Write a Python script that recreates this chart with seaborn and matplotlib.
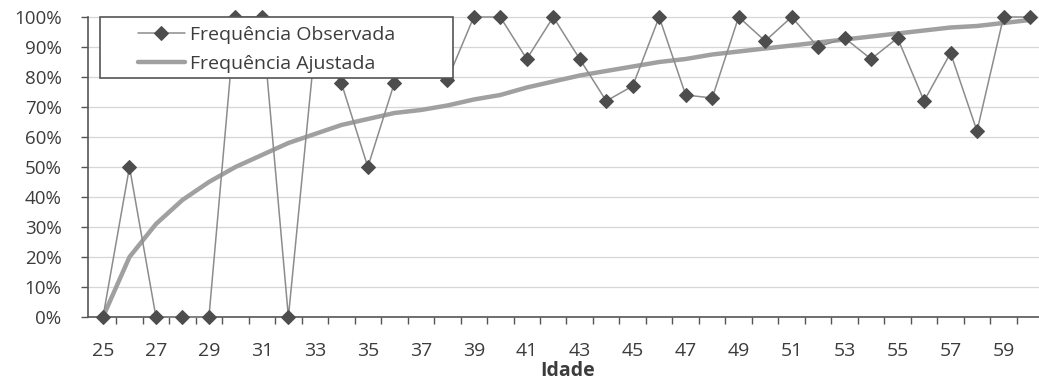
import matplotlib
matplotlib.use("Agg")
import matplotlib.pyplot as plt
from matplotlib.patches import Rectangle
from matplotlib.ticker import FixedLocator, FuncFormatter
import numpy as np
import pandas as pd
import seaborn as sns

# Age groups (years)
idade = list(range(25, 61))

# Observed frequency per age (%)
freq_observada = [0, 50, 0, 0, 0, 100, 100, 0, 90, 78, 50, 78, 90, 79,
                  100, 100, 86, 100, 86, 72, 77, 100, 74, 73, 100, 92,
                  100, 90, 93, 86, 93, 72, 88, 62, 100, 100]

# Fitted frequency per age (%)
freq_ajustada = [0, 20, 31, 39, 45, 50, 54, 58, 61, 64, 66, 68, 69, 70.5,
                 72.5, 74, 76.5, 78.5, 80.5, 82, 83.5, 85, 86, 87.5, 88.5,
                 89.5, 90.5, 91.5, 92.5, 93.5, 94.5, 95.5, 96.5, 97, 98, 99]

y_ticks = list(range(0, 101, 10))
x_labels = list(range(25, 60, 2))

df = pd.DataFrame({"idade": idade,
                   "observada": freq_observada,
                   "ajustada": freq_ajustada})

sns.set_theme(style="white")
plt.rcParams["font.family"] = ["Open Sans", "DejaVu Sans"]

TXT = "#3c3c3c"
AXC = "#555555"

fig = plt.figure(figsize=(10.39, 3.80), dpi=100)
ax = fig.add_axes([88 / 1039, 63 / 380, 951 / 1039, 300 / 380])

ax.set_facecolor("white")
for y in y_ticks[1:]:
    ax.axhline(y, color="#d6d6d6", lw=0.9, zorder=1)

sns.lineplot(data=df, x="idade", y="ajustada", ax=ax, color="#a0a0a0",
             lw=3.2, zorder=3, label="Frequência Ajustada")
sns.lineplot(data=df, x="idade", y="observada", ax=ax, color="#8c8c8c",
             lw=1.1, marker="D", markersize=7, markerfacecolor="#4d4d4d",
             markeredgecolor="#4d4d4d", zorder=4, label="Frequência Observada")
for line in ax.lines:
    line.set_clip_on(False)

ax.set_xlim(24.434, 60.34)
ax.set_ylim(0, 100)

# Category-style axis: tick marks between ages, labels on odd ages
ax.xaxis.set_major_locator(FixedLocator(np.arange(25.5, 60.5, 1.0)))
ax.xaxis.set_major_formatter(FuncFormatter(lambda v, p: ""))
ax.xaxis.set_minor_locator(FixedLocator(x_labels))
ax.xaxis.set_minor_formatter(FuncFormatter(lambda v, p: f"{int(round(v))}"))
ax.tick_params(axis="x", which="major", direction="out", length=5,
               width=1, color=AXC, bottom=True)
ax.tick_params(axis="x", which="minor", length=0, pad=18,
               labelsize=14, labelcolor=TXT, bottom=True)

ax.set_yticks(y_ticks)
ax.yaxis.set_major_formatter(FuncFormatter(lambda v, p: f"{int(v)}%"))
ax.tick_params(axis="y", direction="out", length=5, width=1, color=AXC,
               pad=14, labelsize=13.5, labelcolor=TXT, left=True)

for side in ("top", "right"):
    ax.spines[side].set_visible(False)
for side in ("left", "bottom"):
    ax.spines[side].set_color(AXC)
    ax.spines[side].set_linewidth(1.2)

ax.set_xlabel("Idade", fontsize=14, fontweight="bold", color=TXT)
ax.xaxis.set_label_coords(0.504, -0.148)
ax.set_ylabel("")

# Legend panel
ax.add_patch(Rectangle((12 / 951, 1 - 61 / 300), 353 / 951, 61 / 300,
                       transform=ax.transAxes, facecolor="white",
                       edgecolor="#555555", lw=1.2, zorder=8, clip_on=False))
handles, labels = ax.get_legend_handles_labels()
order = [labels.index("Frequência Observada"), labels.index("Frequência Ajustada")]
leg = ax.legend([handles[i] for i in order], [labels[i] for i in order],
                loc="upper left", bbox_to_anchor=(50 / 951, 1 - 9 / 300),
                frameon=False, fontsize=14, handlelength=2.4,
                handletextpad=0.25, labelspacing=0.55, borderaxespad=0,
                borderpad=0, labelcolor=TXT)
leg.set_zorder(9)

fig.savefig("out.png", dpi=100, facecolor="white")
